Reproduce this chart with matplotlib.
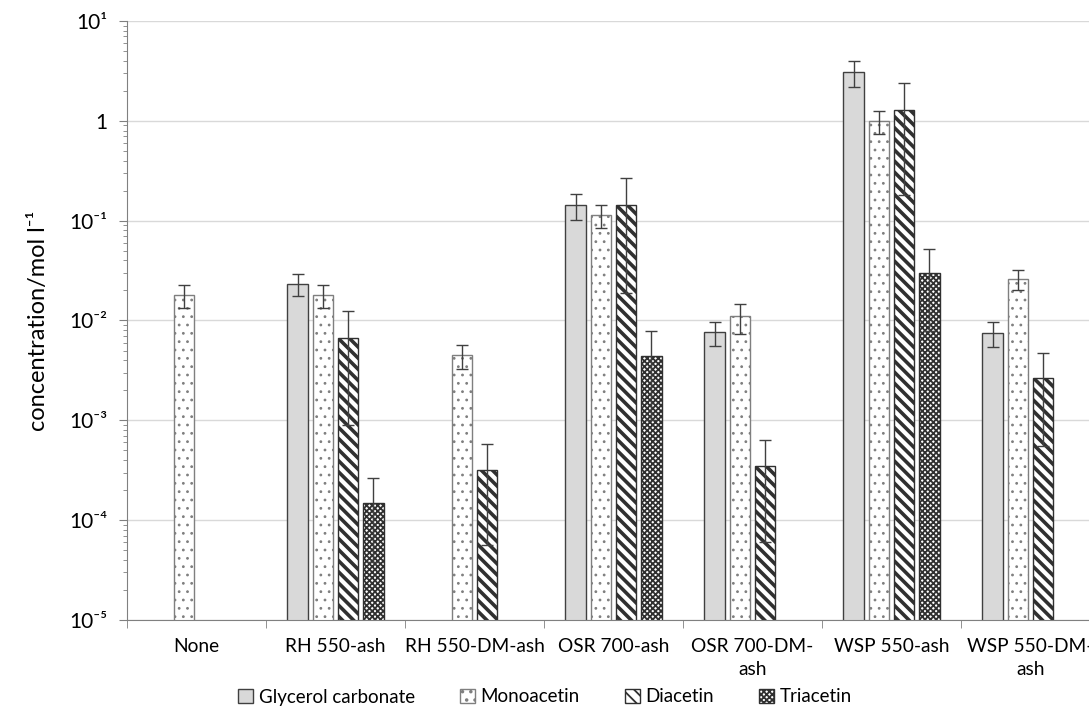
import numpy as np
import matplotlib.pyplot as plt
from matplotlib.ticker import FixedLocator, FixedFormatter, LogLocator, NullFormatter

plt.rcParams['font.family'] = ['Lato', 'DejaVu Sans']
plt.rcParams['hatch.linewidth'] = 0.8

categories = ["None", "RH 550-ash", "RH 550-DM-ash", "OSR 700-ash",
              "OSR 700-DM-\nash", "WSP 550-ash", "WSP 550-DM-\nash"]

# nan = not detected
nan = np.nan
glycerol_carbonate = [nan, 0.0232, nan, 0.143, 0.0076, 3.08, 0.0075]
glycerol_carbonate_err = [nan, 0.0058, nan, 0.042, 0.0020, 0.90, 0.0021]
monoacetin = [0.018, 0.018, 0.0045, 0.114, 0.011, 1.0, 0.026]
monoacetin_err = [0.0048, 0.0048, 0.0012, 0.029, 0.0036, 0.26, 0.006]
diacetin = [nan, 0.0067, 3.16e-4, 0.143, 3.5e-4, 1.28, 0.00265]
diacetin_err = [nan, 0.0058, 2.6e-4, 0.124, 2.9e-4, 1.1, 0.0021]
triacetin = [nan, 1.5e-4, nan, 0.0044, nan, 0.0298, nan]
triacetin_err = [nan, 1.12e-4, nan, 0.0034, nan, 0.022, nan]

series = [
    ("Glycerol carbonate", glycerol_carbonate, glycerol_carbonate_err, "#d9d9d9", "", "#404040", 0.8),
    ("Monoacetin", monoacetin, monoacetin_err, "white", "..", "#7f7f7f", 0.8),
    ("Diacetin", diacetin, diacetin_err, "white", "\\\\\\", "#303030", 2.6),
    ("Triacetin", triacetin, triacetin_err, "white", "xxxxxx", "#303030", 1.3),
]

fig = plt.figure(figsize=(10.89, 7.2), dpi=100)
ax = fig.add_axes([127 / 1089, 100 / 720, 973 / 1089, 599 / 720])

x = np.arange(len(categories))
step = 0.182
width = 0.148
offsets = [-1.5 * step, -0.5 * step, 0.5 * step, 1.5 * step]

handles = []
for (name, vals, errs, fc, hatch, ec, hlw), off in zip(series, offsets):
    plt.rcParams['hatch.linewidth'] = hlw
    b = ax.bar(x + off, vals, width, color=fc, hatch=hatch, edgecolor=ec,
               linewidth=1.0, label=name, zorder=2)
    handles.append(b)
    ax.errorbar(x + off, vals, yerr=errs, fmt="none", ecolor="#404040",
                elinewidth=1.0, capsize=4, capthick=1.0, zorder=3)

ax.set_yscale("log")
ax.set_ylim(1e-5, 10)
ax.set_xlim(-0.5, len(categories) - 0.5)

ylabels = ["10⁻⁵", "10⁻⁴", "10⁻³", "10⁻²", "10⁻¹", "1", "10¹"]
ax.yaxis.set_major_locator(FixedLocator([1e-5, 1e-4, 1e-3, 1e-2, 1e-1, 1, 10]))
ax.yaxis.set_major_formatter(FixedFormatter(ylabels))
ax.yaxis.set_minor_locator(LogLocator(base=10, subs=np.arange(2, 10)))
ax.yaxis.set_minor_formatter(NullFormatter())
ax.tick_params(axis="y", which="major", length=6, color="#808080", labelsize=15, pad=8)
ax.tick_params(axis="y", which="minor", length=3, color="#808080")

ax.set_xticks(x)
ax.set_xticklabels(categories, fontsize=13.8, linespacing=1.45)
ax.set_xticks(np.arange(len(categories) + 1) - 0.5, minor=True)
ax.tick_params(axis="x", which="major", length=0, pad=13)
ax.tick_params(axis="x", which="minor", length=6, color="#808080")

ax.grid(axis="y", which="major", color="#d9d9d9", linewidth=1.0, zorder=0)
ax.set_axisbelow(True)
for s in ["top", "right"]:
    ax.spines[s].set_visible(False)
ax.spines["left"].set_color("#808080")
ax.spines["bottom"].set_color("#808080")

ax.set_ylabel("concentration/mol l⁻¹", fontsize=17, labelpad=15)

fig.legend(handles=handles, loc="center", bbox_to_anchor=(545 / 1089, 1 - 697 / 720),
           ncol=4, frameon=False, fontsize=13.5, handlelength=0.8, handleheight=0.8,
           handletextpad=0.3, columnspacing=2.4)

fig.savefig("out.png", dpi=100)
